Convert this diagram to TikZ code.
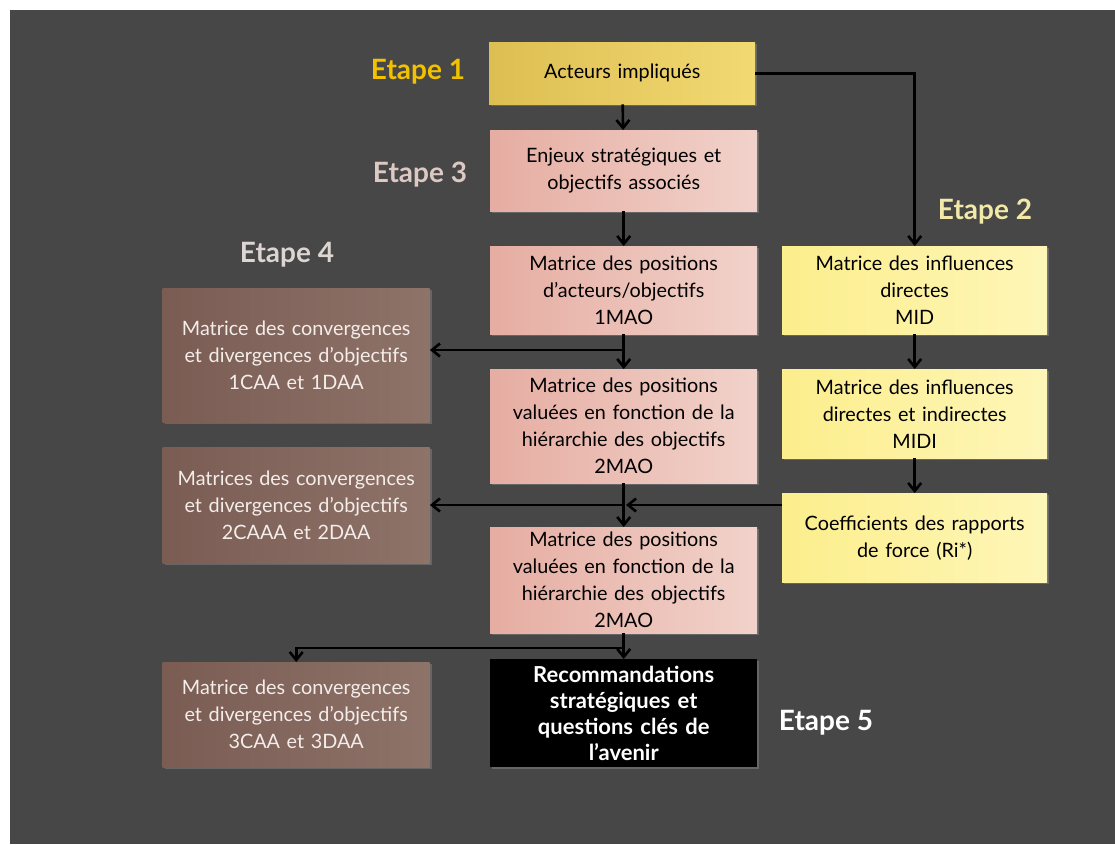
\documentclass[tikz,border=0pt]{standalone}
\usepackage{fontspec}
\setmainfont{Lato}
\usetikzlibrary{arrows.meta,shadows}
\definecolor{bgdark}{HTML}{474747}
\definecolor{goldL}{HTML}{DDBE52}
\definecolor{goldR}{HTML}{F2D972}
\definecolor{pinkL}{HTML}{E6ADA2}
\definecolor{pinkR}{HTML}{F1D2CA}
\definecolor{yelL}{HTML}{FCEE8C}
\definecolor{yelR}{HTML}{FEF6B8}
\definecolor{brnL}{HTML}{7A5C53}
\definecolor{brnR}{HTML}{8E7369}
\definecolor{etA}{HTML}{F2C200}
\definecolor{etB}{HTML}{F2E9A8}
\definecolor{etC}{HTML}{DCC9C4}
\definecolor{etD}{HTML}{DCD5D1}
\definecolor{brntext}{HTML}{F4EDEA}
\tikzset{
  boxbase/.style={anchor=north west, inner sep=2pt, align=center,
    font=\fontsize{19.8}{27}\selectfont,
    drop shadow={opacity=0.55, shadow xshift=2pt, shadow yshift=-2pt}},
  goldbox/.style={boxbase, left color=goldL, right color=goldR, text=black},
  pinkbox/.style={boxbase, left color=pinkL, right color=pinkR, text=black},
  yelbox/.style={boxbase, left color=yelL, right color=yelR, text=black},
  brnbox/.style={boxbase, left color=brnL, right color=brnR, text=brntext},
  blkbox/.style={boxbase, fill=black, text=white, font=\bfseries\fontsize{22}{26}\selectfont},
  etape/.style={font=\bfseries\fontsize{28}{32}\selectfont},
  arr/.style={line width=2.6pt, draw=black, -{Straight Barb[length=8pt,width=13pt]}}
}
\begin{document}
\begin{tikzpicture}[x=1pt,y=-1pt]
\useasboundingbox (0,0) rectangle (1115,844);
\fill[white] (0,0) rectangle (1115,844);
\fill[bgdark] (9.6,10) rectangle (1115,844);

% centre column
\node[goldbox, minimum width=266pt, minimum height=62pt, text width=260pt] (act) at (489,42) {Acteurs impliqués};
\node[pinkbox, minimum width=267pt, minimum height=81pt, text width=260pt] (enj) at (490,130) {Enjeux stratégiques et\\objectifs associés};
\node[pinkbox, minimum width=267pt, minimum height=88pt, text width=260pt] (mao1) at (490,246) {Matrice des positions\\d’acteurs/objectifs\\1MAO};
\node[pinkbox, minimum width=267pt, minimum height=114pt, text width=260pt] (mao2) at (490,369) {Matrice des positions\\valuées en fonction de la\\hiérarchie des objectifs\\2MAO};
\node[pinkbox, minimum width=267pt, minimum height=106pt, text width=260pt] (mao3) at (490,527) {Matrice des positions\\valuées en fonction de la\\hiérarchie des objectifs\\2MAO};
\node[blkbox, minimum width=267pt, minimum height=108pt, text width=260pt] (rec) at (490,659) {Recommandations\\stratégiques et\\questions clés de\\l’avenir};

% right column
\node[yelbox, minimum width=265pt, minimum height=88pt, text width=258pt] (mid) at (782,246) {Matrice des influences\\directes\\MID};
\node[yelbox, minimum width=265pt, minimum height=89pt, text width=258pt] (midi) at (782,369) {Matrice des influences\\directes et indirectes\\MIDI};
\node[yelbox, minimum width=265pt, minimum height=89pt, text width=258pt] (coef) at (782,493) {Coefficients des rapports\\de force (Ri*)};

% left column
\node[brnbox, minimum width=267pt, minimum height=134pt, text width=260pt] (caa1) at (162.5,288) {Matrice des convergences\\et divergences d’objectifs\\1CAA et 1DAA};
\node[brnbox, minimum width=267pt, minimum height=116pt, text width=260pt] (caa2) at (162.5,447) {Matrices des convergences\\et divergences d’objectifs\\2CAAA et 2DAA};
\node[brnbox, minimum width=267pt, minimum height=105pt, text width=260pt] (caa3) at (162.5,662) {Matrice des convergences\\et divergences d’objectifs\\3CAA et 3DAA};

% etape labels
\node[etape, text=etA] (e1) at (418,72) {Etape 1};
\node[etape, text=etC] (e3) at (420,175) {Etape 3};
\node[etape, text=etD] (e4) at (287,255) {Etape 4};
\node[etape, text=etB] (e2) at (985,212) {Etape 2};
\node[etape, text=white] (e5) at (826,723) {Etape 5};

% connectors
\draw[arr] (act) -- (enj);
\draw[arr] (enj) -- (mao1);
\draw[arr] (mao1) -- (mao2);
\draw[arr] (mao2) -- (mao3);
\draw[arr] (mao3) -- (rec);
\draw[arr] (act.east) -| (mid.north);
\draw[arr] (mid) -- (midi);
\draw[arr] (midi) -- (coef);

\coordinate (j1) at (622.5,350);
\coordinate (j2) at (622.5,505);
\coordinate (j2r) at (626,505);
\coordinate (j3) at (622.5,648);
\draw[arr] (j1) -- (caa1.east |- j1);
\draw[arr] (j2) -- (caa2.east |- j2);
\draw[arr] (coef.west |- j2) -- (j2r);
\draw[arr] (j3) -| (caa3.north);
\end{tikzpicture}
\end{document}
